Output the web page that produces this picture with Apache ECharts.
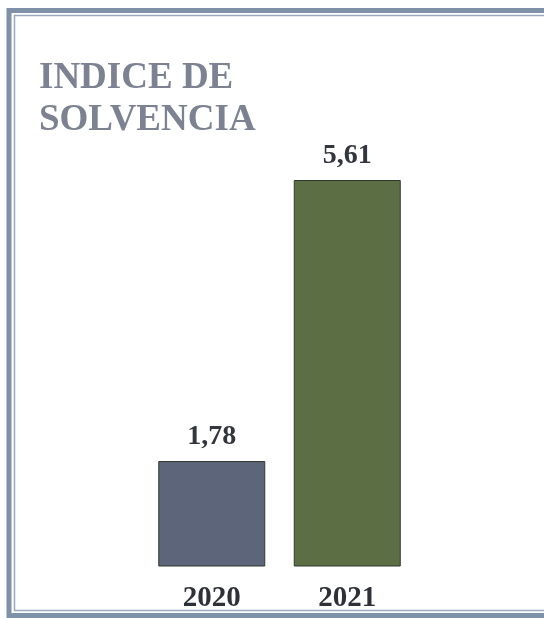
<!DOCTYPE html>
<html><head><meta charset="utf-8">
<script src="https://cdn.jsdelivr.net/npm/echarts@6/dist/echarts.min.js"></script>
<style>html,body{margin:0;padding:0;background:#fff}#c{width:544px;height:618px}</style>
</head><body><div id="c"></div>
<script>
const categories = ['2020', '2021'];
const values = [1.78, 5.61];
const labels = ['1,78', '5,61'];
const barColors = ['#5c6579', '#5c6f44'];
const titleText = 'INDICE DE\nSOLVENCIA';

const chart = echarts.init(document.getElementById('c'), null, {renderer: 'canvas'});
const serif = '"Liberation Serif", "DejaVu Serif", serif';
chart.setOption({
  backgroundColor: '#ffffff',
  animation: false,
  title: {
    text: titleText,
    left: 34, top: 52,
    textStyle: {fontFamily: serif, fontWeight: 'bold', fontSize: 37, lineHeight: 42, color: '#7d8292'}
  },
  graphic: [
    {type: 'rect', shape: {x: 9, y: 10.5, width: 545, height: 605}, style: {fill: 'none', stroke: '#7f91a8', lineWidth: 5}},
    {type: 'rect', shape: {x: 14.5, y: 15.5, width: 540, height: 595}, style: {fill: 'none', stroke: '#9aa9bc', lineWidth: 1.5}}
  ],
  grid: {left: 144, right: 129, top: 180, bottom: 52},
  xAxis: {
    type: 'category', data: categories,
    axisLine: {show: false}, axisTick: {show: false},
    axisLabel: {margin: 18, fontFamily: serif, fontWeight: 'bold', fontSize: 29, color: '#2e3138'}
  },
  yAxis: {type: 'value', min: 0.35, max: 5.61, show: false, splitLine: {show: false}},
  series: [{
    type: 'bar', barWidth: 107,
    data: values.map((v, i) => ({value: v, itemStyle: {color: barColors[i]}})),
    itemStyle: {borderColor: '#2f3a2c', borderWidth: 1},
    label: {
      show: true, position: 'top', distance: 10,
      formatter: p => labels[p.dataIndex],
      fontFamily: serif, fontWeight: 'bold', fontSize: 28, color: '#33363d'
    }
  }]
});
</script></body></html>
